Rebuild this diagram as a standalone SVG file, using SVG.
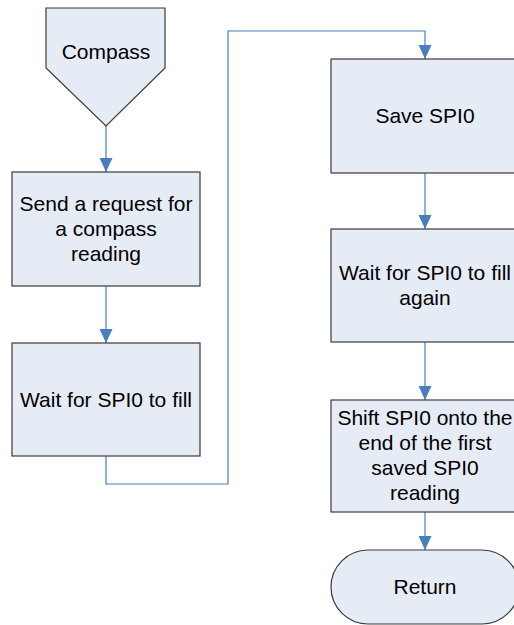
<svg xmlns="http://www.w3.org/2000/svg" width="514" height="625" viewBox="0 0 514 625">
  <style>
    .shape { fill: #e6ecf6; stroke: #3a3a3a; stroke-width: 1.2; }
    .label { font-family: "Liberation Sans", Arial, sans-serif; font-size: 21px; fill: #000; text-anchor: middle; }
    .flow { fill: none; stroke: #4a7ebb; stroke-width: 1.2; marker-end: url(#arrow); }
  </style>
  <defs>
    <marker id="arrow" markerUnits="userSpaceOnUse" markerWidth="14" markerHeight="13" refX="14" refY="6.5" orient="auto" viewBox="0 0 14 13">
      <path d="M0,0 L14,6.5 L0,13 Z" fill="#4a7ebb"/>
    </marker>
  </defs>
  <rect width="514" height="625" fill="#ffffff"/>

  <g id="connectors">
    <path class="flow" d="M106,126 V172"/>
    <path class="flow" d="M106,286 V343"/>
    <path class="flow" d="M106,456 V484 H228 V31 H425 V59"/>
    <path class="flow" d="M425,173 V229"/>
    <path class="flow" d="M425,342 V400"/>
    <path class="flow" d="M425,512 V550"/>
  </g>

  <g id="compass">
    <path class="shape" d="M46,8 H165 V68 L106,126 L46,68 Z"/>
    <text class="label" x="106" y="59">Compass</text>
  </g>

  <g id="send-request">
    <rect class="shape" x="12" y="172" width="188" height="114"/>
    <text class="label" x="106" y="211">Send a request for</text>
    <text class="label" x="106" y="236">a compass</text>
    <text class="label" x="106" y="261">reading</text>
  </g>

  <g id="wait-fill">
    <rect class="shape" x="12" y="343" width="188" height="113"/>
    <text class="label" x="106" y="407">Wait for SPI0 to fill</text>
  </g>

  <g id="save-spi0">
    <rect class="shape" x="331" y="59" width="188" height="114"/>
    <text class="label" x="425" y="123">Save SPI0</text>
  </g>

  <g id="wait-fill-again">
    <rect class="shape" x="331" y="229" width="188" height="113"/>
    <text class="label" x="425" y="280">Wait for SPI0 to fill</text>
    <text class="label" x="425" y="305">again</text>
  </g>

  <g id="shift-spi0">
    <rect class="shape" x="331" y="400" width="188" height="112"/>
    <text class="label" x="425" y="425">Shift SPI0 onto the</text>
    <text class="label" x="425" y="450">end of the first</text>
    <text class="label" x="425" y="475">saved SPI0</text>
    <text class="label" x="425" y="500">reading</text>
  </g>

  <g id="return">
    <rect class="shape" x="331" y="550" width="188" height="74" rx="37" ry="37"/>
    <text class="label" x="425" y="594">Return</text>
  </g>
</svg>
